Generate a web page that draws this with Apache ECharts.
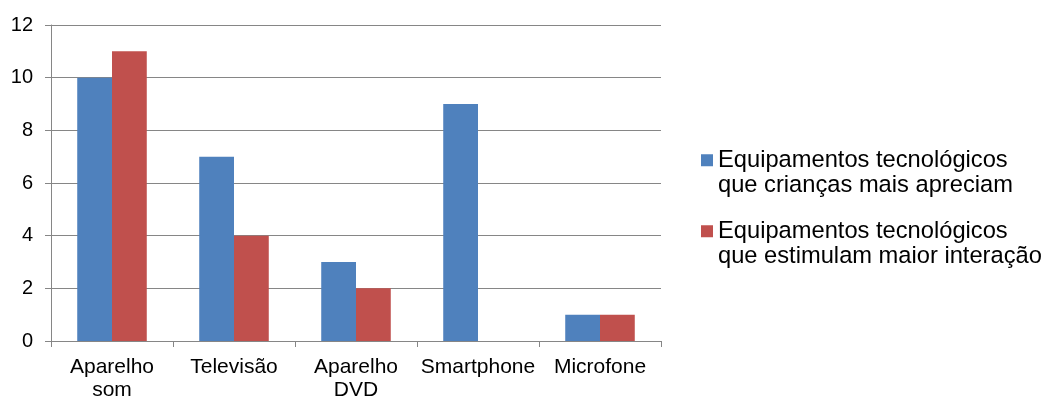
<!DOCTYPE html>
<html>
<head>
<meta charset="utf-8">
<script src="https://cdn.jsdelivr.net/npm/echarts@6/dist/echarts.min.js"></script>
<style>
  html, body { margin: 0; padding: 0; background: #fff; }
  #chart { width: 1048px; height: 399px; }
</style>
</head>
<body>
<div id="chart"></div>
<script>
// Categories and values
const categories = ['Aparelho\nsom', 'Televisão', 'Aparelho\nDVD', 'Smartphone', 'Microfone'];
const seriesNames = [
  'Equipamentos tecnológicos\nque crianças mais apreciam',
  'Equipamentos tecnológicos\nque estimulam maior interação'
];
const apreciam = [10, 7, 3, 9, 1];
const interacao = [11, 4, 2, 0, 1];
const yTicks = [0, 2, 4, 6, 8, 10, 12];

const FONT = '"Liberation Sans", Arial, sans-serif';
const GRAY = '#868686';
const BLUE = '#4F81BD';
const RED = '#C0504D';

// One legend block per series; a leading blank line keeps the square beside the first text line
function legendBlock(name, top) {
  return {
    orient: 'vertical',
    left: 701,
    top: top,
    padding: 0,
    itemWidth: 12,
    itemHeight: 12,
    icon: 'rect',
    data: [name],
    formatter: n => '\n' + n,
    textStyle: { fontFamily: FONT, fontSize: 23.7, lineHeight: 25.5, color: '#000' }
  };
}

const chart = echarts.init(document.getElementById('chart'), null, { renderer: 'canvas' });
chart.setOption({
  animation: false,
  backgroundColor: '#fff',
  grid: { left: 51, right: 387, top: 25, bottom: 58, containLabel: false, outerBoundsMode: 'none' },
  legend: [legendBlock(seriesNames[0], 122), legendBlock(seriesNames[1], 193)],
  xAxis: {
    type: 'category',
    data: categories,
    axisLine: { show: true, lineStyle: { color: GRAY, width: 1 } },
    axisTick: { show: true, length: 6, lineStyle: { color: GRAY } },
    axisLabel: { fontFamily: FONT, fontSize: 21, lineHeight: 23, color: '#000', margin: 15, interval: 0 }
  },
  yAxis: {
    type: 'value',
    min: yTicks[0],
    max: yTicks[yTicks.length - 1],
    interval: yTicks[1] - yTicks[0],
    axisLine: { show: true, lineStyle: { color: GRAY, width: 1 } },
    axisTick: { show: true, length: 6, lineStyle: { color: GRAY } },
    splitLine: { show: true, lineStyle: { color: GRAY, width: 1 } },
    axisLabel: { fontFamily: FONT, fontSize: 20, color: '#000', margin: 18 }
  },
  series: [
    {
      name: seriesNames[0],
      type: 'bar',
      data: apreciam,
      itemStyle: { color: BLUE },
      barGap: '0%',
      barCategoryGap: '43%'
    },
    {
      name: seriesNames[1],
      type: 'bar',
      data: interacao,
      itemStyle: { color: RED },
      barGap: '0%',
      barCategoryGap: '43%'
    }
  ]
});
</script>
</body>
</html>
